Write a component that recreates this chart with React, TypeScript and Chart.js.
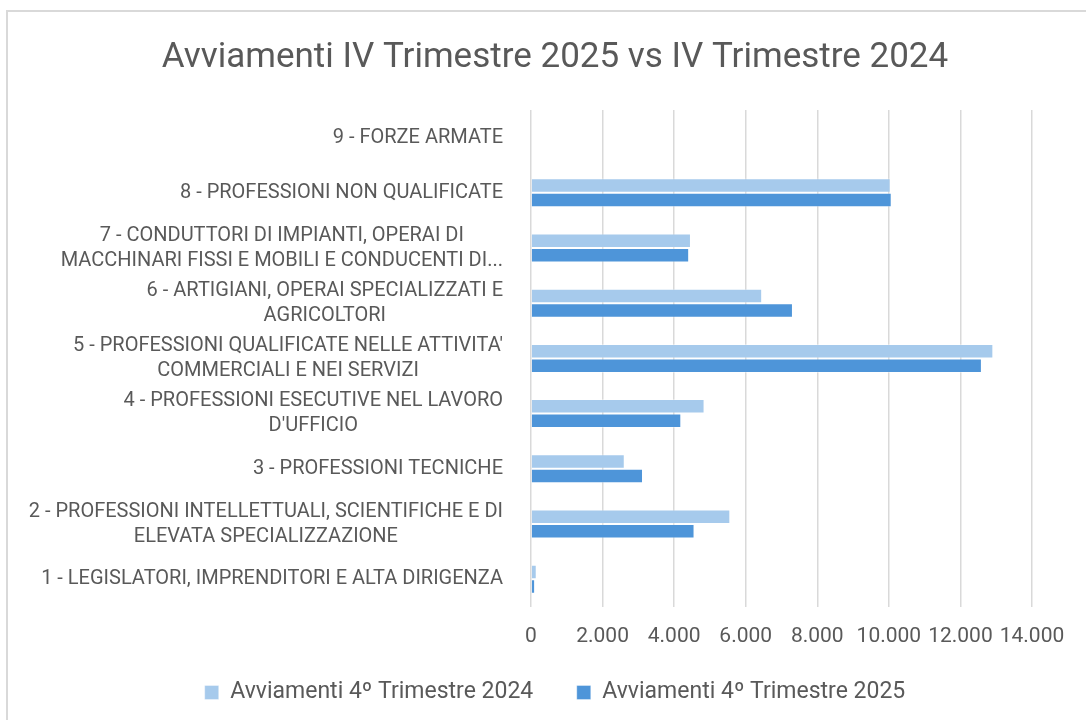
import React, { useEffect, useRef } from "react";
import { Chart, registerables } from "chart.js";

Chart.register(...registerables);

const categories: string[][] = [
  ["9 - FORZE ARMATE"],
  ["8 - PROFESSIONI NON QUALIFICATE"],
  ["7 - CONDUTTORI DI IMPIANTI, OPERAI DI", "MACCHINARI FISSI E MOBILI E CONDUCENTI DI..."],
  ["6 - ARTIGIANI, OPERAI SPECIALIZZATI E", "AGRICOLTORI"],
  ["5 - PROFESSIONI QUALIFICATE NELLE ATTIVITA'", "COMMERCIALI E NEI SERVIZI"],
  ["4 - PROFESSIONI ESECUTIVE NEL LAVORO", "D'UFFICIO"],
  ["3 - PROFESSIONI TECNICHE"],
  ["2 - PROFESSIONI INTELLETTUALI, SCIENTIFICHE E DI", "ELEVATA SPECIALIZZAZIONE"],
  ["1 - LEGISLATORI, IMPRENDITORI E ALTA DIRIGENZA"],
];

const values2024: number[] = [0, 10050, 4470, 6460, 12920, 4850, 2620, 5570, 160];
const values2025: number[] = [0, 10080, 4420, 7320, 12600, 4200, 3130, 4570, 115];

const seriesNames: string[] = ["Avviamenti 4º Trimestre 2024", "Avviamenti 4º Trimestre 2025"];
const titleText = "Avviamenti IV Trimestre 2025 vs IV Trimestre 2024";

const xMin = 0;
const xMax = 14000;
const xStep = 2000;

const TEXT = "#595959";
const GRID = "#d9d9d9";
const FONT = "Roboto, 'Liberation Sans', sans-serif";

const formatThousands = (v: number) => String(v).replace(/\B(?=(\d{3})+(?!\d))/g, ".");

const yLabelPlugin = {
  id: "yLabelPlugin",
  afterDraw(chart: any) {
    const ctx = chart.ctx;
    const yScale = chart.scales.y;
    const rightEdge = chart.chartArea.left - 28;
    const lineH = 25;
    ctx.save();
    ctx.font = `20px ${FONT}`;
    ctx.fillStyle = TEXT;
    ctx.textAlign = "center";
    ctx.textBaseline = "middle";
    categories.forEach((lines, i) => {
      const cy = yScale.getPixelForValue(i);
      const widest = Math.max(...lines.map((l) => ctx.measureText(l).width));
      const cx = rightEdge - widest / 2;
      lines.forEach((l, j) => {
        const y = cy + (j - (lines.length - 1) / 2) * lineH;
        ctx.fillText(l, cx, y);
      });
    });
    ctx.restore();
  },
};

const LEFT_PAD = 78;

export default function App() {
  const ref = useRef<HTMLCanvasElement | null>(null);

  useEffect(() => {
    if (!ref.current) return;
    const chart = new Chart(ref.current, {
      type: "bar",
      data: {
        labels: categories.map((c) => c.join(" ")),
        datasets: [
          {
            label: seriesNames[0],
            data: values2024,
            backgroundColor: "#A6CAEC",
            borderColor: "rgba(255,255,255,0.35)",
            borderWidth: 1,
            categoryPercentage: 0.525,
            barPercentage: 1,
          },
          {
            label: seriesNames[1],
            data: values2025,
            backgroundColor: "#4E95D9",
            borderColor: "rgba(255,255,255,0.35)",
            borderWidth: 1,
            categoryPercentage: 0.525,
            barPercentage: 1,
          },
        ],
      },
      options: {
        indexAxis: "y",
        animation: false,
        responsive: false,
        layout: { padding: { left: LEFT_PAD, right: 54, top: 0, bottom: 6 } },
        scales: {
          x: {
            min: xMin,
            max: xMax,
            ticks: {
              stepSize: xStep,
              autoSkip: false,
              maxRotation: 0,
              color: TEXT,
              padding: 17,
              font: { family: FONT, size: 21 },
              callback: (v: any) => formatThousands(Number(v)),
            },
            grid: { color: GRID, lineWidth: 1.5, drawTicks: false },
            border: { display: false },
          },
          y: {
            ticks: { display: false },
            grid: { display: false, drawTicks: false },
            border: { display: false },
            afterFit: (scale: any) => {
              scale.width = 531 - LEFT_PAD;
            },
          },
        },
        plugins: {
          title: {
            display: true,
            text: titleText,
            color: TEXT,
            font: { family: FONT, size: 35, weight: "normal" },
            padding: { top: 37, bottom: 31 },
          },
          legend: {
            position: "bottom",
            labels: {
              color: TEXT,
              font: { family: FONT, size: 23 },
              boxWidth: 14,
              boxHeight: 14,
              padding: 15,
              generateLabels: (c: any) => {
                const items = (Chart.defaults as any).plugins.legend.labels.generateLabels(c);
                items.forEach((it: any, i: number) => {
                  if (i < items.length - 1) it.text = it.text + "     ";
                });
                return items;
              },
            },
          },
          tooltip: { enabled: false },
        },
      },
      plugins: [yLabelPlugin],
    });
    return () => chart.destroy();
  }, []);

  return (
    <div
      style={{
        position: "fixed",
        left: 0,
        top: 0,
        width: 1086,
        height: 720,
        overflow: "hidden",
        background: "#ffffff",
      }}
    >
      <canvas ref={ref} width={1086} height={720} style={{ position: "absolute", left: 0, top: 0 }} />
      <div
        style={{
          position: "absolute",
          left: 6,
          top: 10,
          width: 1200,
          height: 800,
          borderLeft: "2px solid #d9d9d9",
          borderTop: "2px solid #d9d9d9",
          pointerEvents: "none",
        }}
      />
    </div>
  );
}
